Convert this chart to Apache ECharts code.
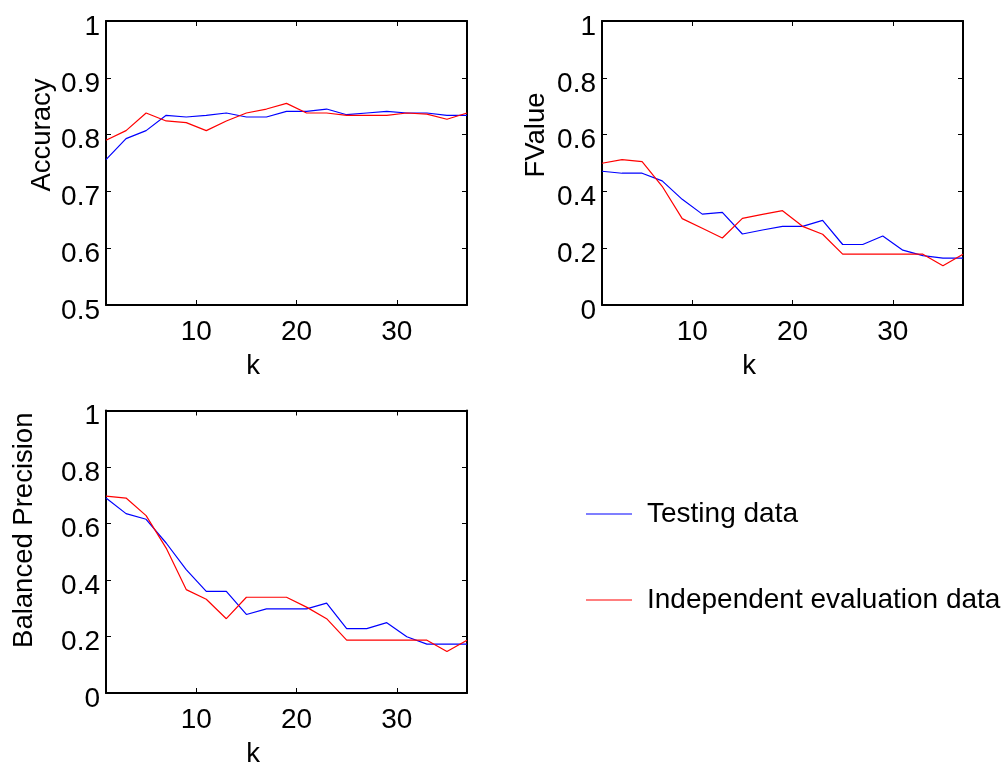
<!DOCTYPE html>
<html>
<head>
<meta charset="utf-8">
<script src="https://cdn.jsdelivr.net/npm/echarts@6/dist/echarts.min.js"></script>
<style>
  html, body { margin: 0; padding: 0; background: #fff; }
  #chart { width: 1004px; height: 769px; }
</style>
</head>
<body>
<div id="chart"></div>
<script>
// k values (odd neighbours 1..37)
const kValues = [1, 3, 5, 7, 9, 11, 13, 15, 17, 19, 21, 23, 25, 27, 29, 31, 33, 35, 37]
const xTicks = [10, 20, 30]

const accTest = [0.756, 0.793, 0.807, 0.834, 0.831, 0.834, 0.838, 0.831, 0.831, 0.841, 0.841, 0.845, 0.835, 0.838, 0.841, 0.838, 0.838, 0.834, 0.834]
const accEval = [0.790, 0.807, 0.838, 0.824, 0.821, 0.807, 0.824, 0.838, 0.845, 0.855, 0.838, 0.838, 0.834, 0.834, 0.834, 0.838, 0.836, 0.827, 0.838]

const fvTest = [0.471, 0.464, 0.464, 0.437, 0.372, 0.320, 0.326, 0.250, 0.264, 0.277, 0.277, 0.298, 0.213, 0.213, 0.243, 0.193, 0.174, 0.165, 0.165]
const fvEval = [0.499, 0.512, 0.505, 0.418, 0.304, 0.270, 0.236, 0.305, 0.319, 0.332, 0.277, 0.249, 0.179, 0.179, 0.179, 0.179, 0.179, 0.138, 0.179]

const bpTest = [0.690, 0.635, 0.615, 0.531, 0.437, 0.360, 0.360, 0.278, 0.298, 0.298, 0.298, 0.318, 0.228, 0.228, 0.249, 0.199, 0.173, 0.173, 0.173]
const bpEval = [0.697, 0.690, 0.628, 0.513, 0.366, 0.332, 0.263, 0.339, 0.339, 0.339, 0.304, 0.263, 0.187, 0.187, 0.187, 0.187, 0.187, 0.147, 0.187]

const FONT = "'Liberation Sans', Arial, sans-serif"
const TEST_NAME = 'Testing data'
const EVAL_NAME = 'Independent evaluation data'

function pairs (arr) {
  return kValues.map((k, i) => [k, arr[i]])
}

// bottom + top x axes (top one only draws the frame and inner ticks)
function xAxes (gridIndex) {
  let base = {
    type: 'value',
    gridIndex: gridIndex,
    min: 1,
    max: 37,
    axisLine: { onZero: false, lineStyle: { color: '#000', width: 2 } },
    axisTick: { inside: true, length: 5, customValues: xTicks, lineStyle: { color: '#000' } },
    splitLine: { show: false }
  }
  return [
    Object.assign({}, base, {
      position: 'bottom',
      name: 'k',
      nameLocation: 'middle',
      nameGap: 47,
      nameTextStyle: { fontFamily: FONT, fontSize: 27.5, color: '#000', padding: [0, 67, 0, 0] },
      axisLabel: { customValues: xTicks, margin: 13, fontFamily: FONT, fontSize: 28, color: '#000' }
    }),
    Object.assign({}, base, {
      position: 'top',
      axisLabel: { show: false }
    })
  ]
}

function yAxes (gridIndex, name, min, interval, nameGap, shift) {
  let base = {
    type: 'value',
    gridIndex: gridIndex,
    min: min,
    max: 1,
    interval: interval,
    axisLine: { show: true, onZero: false, lineStyle: { color: '#000', width: 2 } },
    axisTick: { show: true, inside: true, length: 5, lineStyle: { color: '#000' } },
    splitLine: { show: false }
  }
  return [
    Object.assign({}, base, {
      position: 'left',
      name: name,
      nameLocation: 'middle',
      nameGap: nameGap,
      nameTextStyle: { fontFamily: FONT, fontSize: 27.5, color: '#000', padding: [0, 0, 0, shift] },
      // labels sit a little below their ticks, as in the original
      axisLabel: { margin: 6, fontFamily: FONT, fontSize: 28, color: '#000', verticalAlign: 'top', lineHeight: 12 }
    }),
    Object.assign({}, base, {
      position: 'right',
      axisLabel: { show: false }
    })
  ]
}

function lines (gridIndex, test, ev) {
  return [
    {
      name: TEST_NAME,
      type: 'line',
      xAxisIndex: gridIndex * 2,
      yAxisIndex: gridIndex * 2,
      data: pairs(test),
      symbol: 'none',
      lineStyle: { color: '#0000ff', width: 1.2 },
      itemStyle: { color: '#0000ff' }
    },
    {
      name: EVAL_NAME,
      type: 'line',
      xAxisIndex: gridIndex * 2,
      yAxisIndex: gridIndex * 2,
      data: pairs(ev),
      symbol: 'none',
      lineStyle: { color: '#ff0000', width: 1.2 },
      itemStyle: { color: '#ff0000' }
    }
  ]
}

let myChart = echarts.init(document.getElementById('chart'))
myChart.setOption({
  animation: false,
  backgroundColor: '#fff',
  grid: [
    { left: 106, top: 21, width: 361, height: 284 },
    { left: 602, top: 21, width: 361, height: 284 },
    { left: 106, top: 410.5, width: 361, height: 286.5 }
  ],
  xAxis: [].concat(xAxes(0), xAxes(1), xAxes(2)),
  yAxis: [].concat(
    yAxes(0, 'Accuracy', 0.5, 0.1, 50, 56),
    yAxes(1, 'FValue', 0, 0.2, 52, 56),
    yAxes(2, 'Balanced Precision', 0, 0.2, 68, 43)
  ),
  legend: {
    data: [TEST_NAME, EVAL_NAME],
    orient: 'vertical',
    left: 586,
    top: 497,
    padding: 0,
    icon: 'rect',
    itemWidth: 46,
    itemHeight: 1.2,
    itemGap: 52,
    textStyle: { fontFamily: FONT, fontSize: 28, color: '#000', padding: [6, 0, 0, 10], lineHeight: 28 }
  },
  series: [].concat(
    lines(0, accTest, accEval),
    lines(1, fvTest, fvEval),
    lines(2, bpTest, bpEval)
  )
})
</script>
</body>
</html>
